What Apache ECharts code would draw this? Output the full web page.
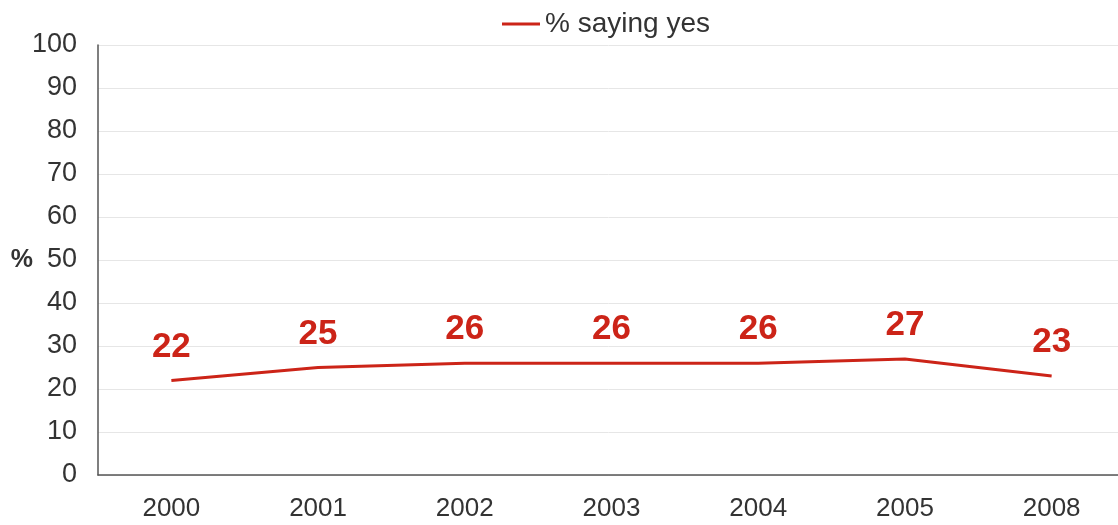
<!DOCTYPE html>
<html>
<head>
<meta charset="utf-8">
<script src="https://cdn.jsdelivr.net/npm/echarts@6/dist/echarts.min.js"></script>
<style>
  html, body { margin: 0; padding: 0; background: #fff; }
  #chart { width: 1118px; height: 525px; }
</style>
</head>
<body>
<div id="chart"></div>
<script>
// Survey years and share answering "yes"
const years = ['2000', '2001', '2002', '2003', '2004', '2005', '2008'];
const sayingYes = [22, 25, 26, 26, 26, 27, 23];
const yTicks = { min: 0, max: 100, interval: 10 };

const red = '#cc2418';
const chart = echarts.init(document.getElementById('chart'));
chart.setOption({
  animation: false,
  textStyle: { fontFamily: 'Liberation Sans, Arial, sans-serif' },
  legend: {
    top: 5,
    left: 497,
    itemWidth: 38,
    itemHeight: 3,
    icon: 'rect',
    textStyle: { fontSize: 28, color: '#333' },
    data: ['% saying yes']
  },
  // plot area runs slightly past the right edge of the canvas
  grid: { left: 98, width: 1027, top: 45, bottom: 50, outerBoundsMode: 'none', containLabel: false },
  xAxis: {
    type: 'category',
    data: years,
    boundaryGap: true,
    axisLine: { lineStyle: { color: '#555', width: 1.5 } },
    axisTick: { show: false },
    axisLabel: { fontSize: 26, color: '#333', margin: 21 }
  },
  yAxis: {
    type: 'value',
    min: yTicks.min,
    max: yTicks.max,
    interval: yTicks.interval,
    name: '%',
    nameLocation: 'middle',
    nameRotate: 0,
    nameGap: 65,
    nameMoveOverlap: false,
    nameTextStyle: { fontSize: 25, fontWeight: 'bold', color: '#333' },
    axisLine: { show: true, lineStyle: { color: '#555', width: 1.5 } },
    axisTick: { show: false },
    splitLine: { lineStyle: { color: '#e6e6e6', width: 1 } },
    axisLabel: { fontSize: 27, color: '#333', margin: 21 }
  },
  series: [{
    name: '% saying yes',
    type: 'line',
    data: sayingYes,
    symbol: 'circle',
    symbolSize: 0,
    showSymbol: true,
    lineStyle: { color: red, width: 3 },
    itemStyle: { color: red },
    label: {
      show: true,
      position: 'top',
      distance: 16,
      fontSize: 35,
      fontWeight: 'bold',
      color: red
    }
  }]
});
</script>
</body>
</html>
